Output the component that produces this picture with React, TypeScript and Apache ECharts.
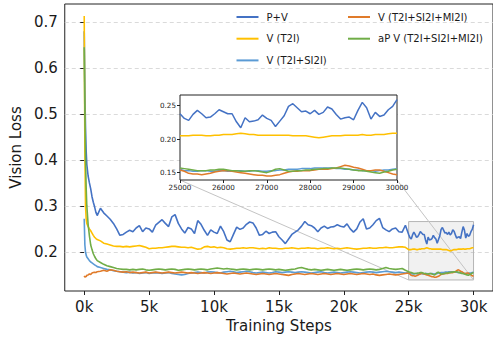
import React, { useEffect, useRef } from "react";
import * as echarts from "echarts";

// Training steps (x positions of the logged points)
const steps = [
  0, 50, 100, 150, 200, 300, 400, 500, 600, 700, 800, 900, 1000,
  1250, 1500, 1750, 2000, 2250, 2500, 2750, 3000, 3250, 3500,
  3750, 4000, 4250, 4500, 4750, 5000, 5250, 5500, 5750, 6000,
  6250, 6500, 6750, 7000, 7250, 7500, 7750, 8000, 8250, 8500,
  8750, 9000, 9250, 9500, 9750, 10000, 10250, 10500, 10750, 11000,
  11250, 11500, 11750, 12000, 12250, 12500, 12750, 13000, 13250, 13500,
  13750, 14000, 14250, 14500, 14750, 15000, 15250, 15500, 15750, 16000,
  16250, 16500, 16750, 17000, 17250, 17500, 17750, 18000, 18250, 18500,
  18750, 19000, 19250, 19500, 19750, 20000, 20250, 20500, 20750, 21000,
  21250, 21500, 21750, 22000, 22250, 22500, 22750, 23000, 23250, 23500,
  23750, 24000, 24250, 24500, 24750, 25000,
  25100, 25200, 25300, 25400, 25500, 25600, 25700, 25800, 25900, 26000,
  26100, 26200, 26300, 26400, 26500, 26600, 26700, 26800, 26900, 27000,
  27100, 27200, 27300, 27400, 27500, 27600, 27700, 27800, 27900, 28000,
  28100, 28200, 28300, 28400, 28500, 28600, 28700, 28800, 28900, 29000,
  29100, 29200, 29300, 29400, 29500, 29600, 29700, 29800, 29900, 30000,
];

const pvLoss = [
  0.68, 0.55, 0.47, 0.42, 0.39, 0.365, 0.35, 0.337, 0.32, 0.308, 0.298, 0.286, 0.279,
  0.295, 0.285, 0.278, 0.271, 0.262, 0.25, 0.236, 0.238, 0.243, 0.247,
  0.244, 0.252, 0.257, 0.244, 0.252, 0.25, 0.243, 0.258, 0.264, 0.27,
  0.262, 0.255, 0.276, 0.281, 0.262, 0.25, 0.241, 0.253, 0.25, 0.24,
  0.268, 0.26, 0.247, 0.236, 0.248, 0.243, 0.24, 0.256, 0.244, 0.226,
  0.222, 0.238, 0.254, 0.249, 0.252, 0.26, 0.265, 0.263, 0.252, 0.236,
  0.238, 0.245, 0.24, 0.243, 0.244, 0.233, 0.226, 0.218, 0.228, 0.238,
  0.243, 0.248, 0.256, 0.266, 0.259, 0.257, 0.252, 0.244, 0.252, 0.256,
  0.251, 0.254, 0.255, 0.259, 0.256, 0.254, 0.261, 0.25, 0.243, 0.25,
  0.265, 0.272, 0.25, 0.252, 0.259, 0.268, 0.273, 0.253, 0.248, 0.244,
  0.25, 0.252, 0.244, 0.243, 0.258, 0.238,
  0.231, 0.228, 0.237, 0.243, 0.238, 0.232, 0.233, 0.238, 0.244, 0.241,
  0.238, 0.238, 0.226, 0.217, 0.232, 0.226, 0.227, 0.229, 0.236, 0.231,
  0.228, 0.219, 0.227, 0.235, 0.249, 0.253, 0.247, 0.241, 0.242, 0.238,
  0.243, 0.237, 0.24, 0.248, 0.245, 0.237, 0.23, 0.232, 0.233, 0.229,
  0.243, 0.255, 0.247, 0.23, 0.24, 0.234, 0.236, 0.244, 0.249, 0.259,
];

const t2iLoss = [
  0.713, 0.42, 0.3, 0.272, 0.262, 0.255, 0.25, 0.246, 0.241, 0.236, 0.232, 0.229, 0.227,
  0.224, 0.219, 0.217, 0.215, 0.213, 0.212, 0.212, 0.211, 0.212, 0.211,
  0.212, 0.213, 0.214, 0.212, 0.21, 0.207, 0.208, 0.208, 0.209, 0.209,
  0.21, 0.211, 0.212, 0.212, 0.211, 0.21, 0.21, 0.209, 0.21, 0.208,
  0.206, 0.207, 0.211, 0.212, 0.21, 0.211, 0.209, 0.21, 0.209, 0.207,
  0.206, 0.207, 0.208, 0.208, 0.209, 0.208, 0.209, 0.209, 0.208, 0.207,
  0.208, 0.207, 0.209, 0.208, 0.208, 0.207, 0.207, 0.208, 0.208, 0.209,
  0.208, 0.207, 0.208, 0.208, 0.209, 0.208, 0.208, 0.207, 0.208, 0.208,
  0.209, 0.208, 0.207, 0.208, 0.207, 0.208, 0.209, 0.208, 0.207, 0.206,
  0.207, 0.208, 0.208, 0.209, 0.208, 0.208, 0.209, 0.209, 0.21, 0.209,
  0.209, 0.21, 0.211, 0.211, 0.21, 0.205,
  0.205, 0.205, 0.206, 0.206, 0.206, 0.205, 0.205, 0.206, 0.206, 0.207,
  0.207, 0.207, 0.208, 0.209, 0.208, 0.207, 0.207, 0.206, 0.206, 0.206,
  0.206, 0.206, 0.206, 0.206, 0.206, 0.205, 0.205, 0.205, 0.205, 0.204,
  0.203, 0.202, 0.203, 0.204, 0.205, 0.205, 0.205, 0.206, 0.206, 0.206,
  0.206, 0.207, 0.206, 0.206, 0.207, 0.207, 0.207, 0.208, 0.209, 0.209,
];

const t2iSi2iLoss = [
  0.272, 0.215, 0.2, 0.193, 0.189, 0.185, 0.181, 0.178, 0.176, 0.174, 0.172, 0.17, 0.168,
  0.166, 0.164, 0.162, 0.161, 0.159, 0.158, 0.157, 0.156, 0.155, 0.156,
  0.154, 0.155, 0.153, 0.154, 0.155, 0.153, 0.154, 0.155, 0.154, 0.153,
  0.154, 0.155, 0.153, 0.152, 0.151, 0.15, 0.151, 0.153, 0.154, 0.155,
  0.156, 0.155, 0.154, 0.156, 0.157, 0.156, 0.155, 0.154, 0.156, 0.157,
  0.158, 0.157, 0.155, 0.156, 0.157, 0.158, 0.157, 0.155, 0.154, 0.155,
  0.156, 0.155, 0.154, 0.155, 0.157, 0.156, 0.155, 0.156, 0.157, 0.156,
  0.155, 0.156, 0.157, 0.156, 0.155, 0.154, 0.155, 0.156, 0.157, 0.155,
  0.154, 0.155, 0.156, 0.155, 0.154, 0.155, 0.156, 0.157, 0.156, 0.155,
  0.154, 0.155, 0.156, 0.157, 0.156, 0.155, 0.156, 0.157, 0.158, 0.157,
  0.156, 0.155, 0.156, 0.155, 0.154, 0.155,
  0.153, 0.153, 0.152, 0.152, 0.153, 0.153, 0.152, 0.152, 0.153, 0.153,
  0.152, 0.152, 0.153, 0.153, 0.152, 0.152, 0.153, 0.153, 0.152, 0.152,
  0.153, 0.153, 0.154, 0.154, 0.155, 0.155, 0.155, 0.156, 0.156, 0.156,
  0.157, 0.157, 0.157, 0.157, 0.157, 0.156, 0.156, 0.155, 0.155, 0.154,
  0.154, 0.153, 0.153, 0.153, 0.152, 0.153, 0.154, 0.154, 0.155, 0.156,
];

const t2iSi2iMi2iLoss = [
  0.148, 0.145, 0.147, 0.146, 0.149, 0.15, 0.152, 0.151, 0.154, 0.155, 0.156, 0.155, 0.157,
  0.158, 0.16, 0.158, 0.161, 0.16, 0.158, 0.157, 0.156, 0.157, 0.155,
  0.156, 0.155, 0.154, 0.155, 0.156, 0.154, 0.155, 0.156, 0.155, 0.154,
  0.155, 0.156, 0.155, 0.154, 0.155, 0.156, 0.155, 0.154, 0.155, 0.154,
  0.153, 0.154, 0.155, 0.154, 0.153, 0.154, 0.155, 0.154, 0.153, 0.152,
  0.153, 0.154, 0.153, 0.152, 0.153, 0.154, 0.153, 0.152, 0.151, 0.152,
  0.153, 0.152, 0.151, 0.152, 0.153, 0.152, 0.151, 0.15, 0.149, 0.151,
  0.152, 0.153, 0.152, 0.151, 0.152, 0.153, 0.152, 0.151, 0.152, 0.153,
  0.152, 0.151, 0.152, 0.153, 0.152, 0.151, 0.152, 0.153, 0.152, 0.151,
  0.152, 0.153, 0.152, 0.151, 0.152, 0.15, 0.149, 0.15, 0.151, 0.152,
  0.151, 0.15, 0.151, 0.152, 0.153, 0.154,
  0.152, 0.149, 0.148, 0.148, 0.147, 0.148, 0.149, 0.151, 0.152, 0.153,
  0.153, 0.152, 0.151, 0.15, 0.149, 0.148, 0.147, 0.146, 0.146, 0.145,
  0.145, 0.146, 0.147, 0.149, 0.151, 0.152, 0.152, 0.153, 0.153, 0.153,
  0.154, 0.155, 0.155, 0.155, 0.156, 0.157, 0.159, 0.161, 0.16, 0.158,
  0.157, 0.155, 0.153, 0.153, 0.154, 0.154, 0.152, 0.15, 0.148, 0.147,
];

const apLoss = [
  0.645, 0.5, 0.4, 0.34, 0.3, 0.26, 0.235, 0.215, 0.205, 0.196, 0.19, 0.185, 0.181,
  0.177, 0.173, 0.17, 0.168, 0.166, 0.164, 0.163, 0.162, 0.162, 0.161,
  0.162, 0.161, 0.162, 0.163, 0.161, 0.16, 0.161, 0.162, 0.163, 0.162,
  0.161, 0.162, 0.163, 0.162, 0.16, 0.161, 0.162, 0.163, 0.162, 0.161,
  0.162, 0.163, 0.162, 0.161, 0.163, 0.164, 0.165, 0.164, 0.163, 0.164,
  0.163, 0.162, 0.161, 0.162, 0.163, 0.162, 0.161, 0.162, 0.163, 0.162,
  0.161, 0.162, 0.163, 0.162, 0.161, 0.162, 0.161, 0.16, 0.161, 0.162,
  0.163, 0.165, 0.166, 0.164, 0.162, 0.161, 0.162, 0.161, 0.16, 0.161,
  0.162, 0.161, 0.16, 0.161, 0.162, 0.161, 0.16, 0.161, 0.162, 0.163,
  0.162, 0.161, 0.162, 0.163, 0.162, 0.161, 0.162, 0.164, 0.166, 0.164,
  0.163, 0.162, 0.163, 0.164, 0.16, 0.157,
  0.156, 0.155, 0.154, 0.153, 0.153, 0.153, 0.154, 0.154, 0.155, 0.155,
  0.154, 0.153, 0.153, 0.152, 0.152, 0.153, 0.153, 0.152, 0.151, 0.15,
  0.152, 0.155, 0.156, 0.154, 0.152, 0.152, 0.153, 0.153, 0.154, 0.154,
  0.155, 0.155, 0.156, 0.156, 0.157, 0.157, 0.157, 0.156, 0.155, 0.154,
  0.153, 0.153, 0.152, 0.151, 0.15, 0.149, 0.151, 0.152, 0.154, 0.155,
];

const seriesNames = [
  "P+V",
  "V (T2I)",
  "V (T2I+SI2I)",
  "V (T2I+SI2I+MI2I)",
  "aP V (T2I+SI2I+MI2I)",
];
const seriesValues = [pvLoss, t2iLoss, t2iSi2iLoss, t2iSi2iMi2iLoss, apLoss];
const seriesColors = ["#4472C4", "#FFC000", "#5B9BD5", "#E07B2A", "#70AD47"];

const xTickValues = [0, 5000, 10000, 15000, 20000, 25000, 30000];
const yTickValues = [0.2, 0.3, 0.4, 0.5, 0.6, 0.7];
const insetXRange = [25000, 30000];
const insetYRange = [0.139, 0.266];
const insetYTicks = [0.15, 0.2, 0.25];

const FONT = "DejaVu Sans";
const TEXT = "#1a1a1a";

export default function App() {
  const ref = useRef<HTMLDivElement>(null);

  useEffect(() => {
    if (!ref.current) return;
    const chart = echarts.init(ref.current, undefined, { renderer: "svg" });

    const mainSeries = seriesNames.map((name, k) => ({
      name,
      type: "line",
      xAxisIndex: 0,
      yAxisIndex: 0,
      data: steps.map((s, i) => [s, seriesValues[k][i]]),
      showSymbol: false,
      symbol: "none",
      lineStyle: { width: 1.6, color: seriesColors[k] },
      itemStyle: { color: seriesColors[k] },
      z: 3,
    }));

    const insetSeries = seriesNames.map((name, k) => ({
      name,
      type: "line",
      xAxisIndex: 1,
      yAxisIndex: 1,
      data: steps
        .map((s, i) => [s, seriesValues[k][i]])
        .filter((p) => p[0] >= insetXRange[0]),
      showSymbol: false,
      symbol: "none",
      clip: true,
      lineStyle: { width: 1.5, color: seriesColors[k] },
      itemStyle: { color: seriesColors[k] },
      z: 12,
    }));

    const zoomBox = {
      name: "zoom-box",
      type: "line",
      xAxisIndex: 0,
      yAxisIndex: 0,
      data: [],
      z: 1,
      markArea: {
        silent: true,
        itemStyle: {
          color: "rgba(0,0,0,0.055)",
          borderColor: "#b5b5b5",
          borderWidth: 1,
        },
        data: [
          [
            { xAxis: insetXRange[0], yAxis: insetYRange[0] },
            { xAxis: insetXRange[1], yAxis: insetYRange[1] },
          ],
        ],
      },
    };

    const legendCommon = {
      orient: "vertical",
      icon: "rect",
      itemWidth: 22,
      itemHeight: 2,
      itemGap: 9.7,
      padding: 0,
      textStyle: {
        fontSize: 10,
        fontFamily: FONT,
        color: TEXT,
        lineHeight: 12,
        padding: [0, 0, 0, 3],
      },
      z: 20,
    };

    chart.setOption({
      animation: false,
      backgroundColor: "#ffffff",
      grid: [
        {
          left: 63,
          top: 4,
          width: 433,
          height: 287,
          show: true,
          borderColor: "#222",
          borderWidth: 1,
          backgroundColor: "transparent",
        },
        {
          left: 180,
          top: 95,
          width: 217,
          height: 85,
          show: true,
          borderColor: "#222",
          borderWidth: 1,
          backgroundColor: "#ffffff",
          z: 8,
        },
      ],
      legend: [
        { ...legendCommon, left: 236.5, top: 11, data: seriesNames.slice(0, 3) },
        { ...legendCommon, left: 348, top: 11, data: seriesNames.slice(3) },
      ],
      xAxis: [
        {
          gridIndex: 0,
          type: "value",
          min: -1500,
          max: 31500,
          axisLine: { show: false },
          axisTick: {
            show: true,
            customValues: xTickValues,
            length: 4,
            lineStyle: { color: "#222", width: 1 },
          },
          axisLabel: {
            customValues: xTickValues,
            formatter: (v: number) => `${v / 1000}k`,
            fontSize: 15,
            fontFamily: FONT,
            color: TEXT,
            margin: 8,
          },
          splitLine: { show: false },
          name: "Training Steps",
          nameLocation: "middle",
          nameGap: 24,
          nameTextStyle: { fontSize: 15, fontFamily: FONT, color: TEXT },
        },
        {
          gridIndex: 1,
          type: "value",
          min: insetXRange[0],
          max: insetXRange[1],
          interval: 1000,
          axisLine: { show: false },
          axisTick: { show: true, length: 3, lineStyle: { color: "#222" } },
          axisLabel: {
            formatter: (v: number) => String(v),
            fontSize: 7.2,
            fontFamily: FONT,
            color: TEXT,
            margin: 4,
          },
          splitLine: { show: false },
          z: 12,
        },
      ],
      yAxis: [
        {
          gridIndex: 0,
          type: "value",
          min: 0.115,
          max: 0.739,
          axisLine: { show: false },
          axisTick: {
            show: true,
            customValues: yTickValues,
            length: 4,
            lineStyle: { color: "#222", width: 1 },
          },
          axisLabel: {
            customValues: yTickValues,
            formatter: (v: number) => v.toFixed(1),
            fontSize: 15,
            fontFamily: FONT,
            color: TEXT,
            margin: 7,
          },
          splitLine: {
            show: true,
            lineStyle: { color: "#d0d0d0", width: 0.8, type: [4, 3] },
          },
          name: "Vision Loss",
          nameLocation: "middle",
          nameGap: 40,
          nameTextStyle: { fontSize: 15, fontFamily: FONT, color: TEXT },
        },
        {
          gridIndex: 1,
          type: "value",
          min: insetYRange[0],
          max: insetYRange[1],
          axisLine: { show: false },
          axisTick: {
            show: true,
            customValues: insetYTicks,
            length: 3,
            lineStyle: { color: "#222" },
          },
          axisLabel: {
            customValues: insetYTicks,
            formatter: (v: number) => v.toFixed(2),
            fontSize: 7.2,
            fontFamily: FONT,
            color: TEXT,
            margin: 4,
          },
          splitLine: { show: false },
          z: 12,
        },
      ],
      series: [zoomBox, ...mainSeries, ...insetSeries],
    });

    // connector lines from the inset's lower corners to the zoom box's lower corners
    const a1 = chart.convertToPixel({ gridIndex: 1 }, [insetXRange[0], insetYRange[0]]) as number[];
    const b1 = chart.convertToPixel({ gridIndex: 0 }, [insetXRange[0], insetYRange[0]]) as number[];
    const a2 = chart.convertToPixel({ gridIndex: 1 }, [insetXRange[1], insetYRange[0]]) as number[];
    const b2 = chart.convertToPixel({ gridIndex: 0 }, [insetXRange[1], insetYRange[0]]) as number[];
    chart.setOption({
      graphic: [
        {
          type: "line",
          z: 1,
          shape: { x1: a1[0], y1: a1[1], x2: b1[0], y2: b1[1] },
          style: { stroke: "#c4c4c4", lineWidth: 1 },
          silent: true,
        },
        {
          type: "line",
          z: 1,
          shape: { x1: a2[0], y1: a2[1], x2: b2[0], y2: b2[1] },
          style: { stroke: "#c4c4c4", lineWidth: 1 },
          silent: true,
        },
      ],
    });

    return () => chart.dispose();
  }, []);

  return (
    <div
      ref={ref}
      style={{ position: "fixed", left: 0, top: 0, width: 493, height: 339 }}
    />
  );
}
